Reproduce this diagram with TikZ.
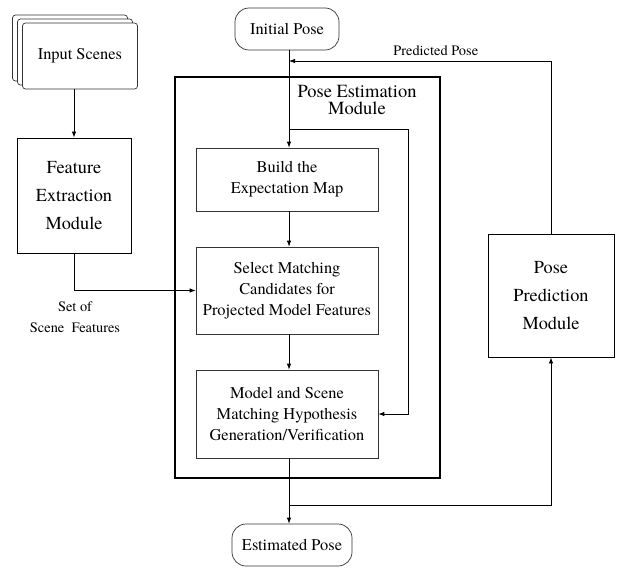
\documentclass[tikz,border=0pt]{standalone}
\usepackage{fontspec}
\IfFontExistsTF{texgyretermes-regular.otf}
  {\setmainfont{texgyretermes-regular.otf}}
  {\setmainfont{Liberation Serif}}
\usetikzlibrary{arrows.meta}

\begin{document}
\begin{tikzpicture}[x=1pt, y=-1pt, >={Latex[length=6pt,width=4.5pt]},
    every node/.style={inner sep=0pt, align=center, font=\fontsize{16.4}{21}\selectfont},
    stepbox/.style={draw=black!80, line width=0.7pt, fill=white},
    modbox/.style={draw=black, line width=0.9pt, fill=white, font=\fontsize{18.3}{28}\selectfont},
    termbox/.style={draw=black!80, line width=0.7pt, rounded corners=14pt},
    small/.style={font=\fontsize{14.4}{21}\selectfont},
    link/.style={line width=0.8pt}]
    \useasboundingbox (0,0) rectangle (617,570);
    \node (scenesC) at (70,48) [stepbox, rounded corners=3pt, minimum width=115pt, minimum height=66pt] {};
    \node (scenesB) at (75,52) [stepbox, rounded corners=3pt, minimum width=115pt, minimum height=66pt] {};
    \node (scenes) at (80,56) [stepbox, rounded corners=3pt, minimum width=115pt, minimum height=66pt] {Input Scenes};
    \node (feature) at (74,195.5) [modbox, minimum width=114pt, minimum height=115pt] {Feature\\Extraction\\Module};
    \node (pem) at (307.5,277.5) [draw, line width=1.2pt, minimum width=265pt, minimum height=401pt] {};
    \node (pemtitle) at (357,100) [font=\fontsize{18.5}{17}\selectfont] {Pose Estimation\\Module};
    \node (initial) at (287,29) [termbox, minimum width=104pt, minimum height=42pt] {Initial Pose};
    \node (build) at (287,179.5) [stepbox, minimum width=182pt, minimum height=63pt] {Build the\\Expectation Map};
    \node (select) at (287,290.5) [stepbox, minimum width=182pt, minimum height=87pt] {Select Matching\\Candidates for\\Projected Model Features};
    \node (model) at (287,414) [stepbox, minimum width=182pt, minimum height=88pt] {Model and Scene\\Matching Hypothesis\\Generation/Verification};
    \node (estimated) at (292,545) [termbox, minimum width=120pt, minimum height=42pt] {Estimated Pose};
    \node (predict) at (551,295.5) [modbox, minimum width=126pt, minimum height=123pt] {Pose\\Prediction\\Module};
    \node (featurelabel) at (75,317) [small] {Set of\\Scene~ Features};
    \coordinate (merge) at (289,61);
    \coordinate (loopin) at (289,129);
    \coordinate (loopturn) at (408,129);
    \coordinate (split) at (289,505);
    \draw[link,->] (scenes.south -| feature.north) -- (feature.north);
    \draw[link,->] (feature.south) |- (select.west);
    \draw[link,->] (initial.south -| merge) -- (build.north -| merge);
    \draw[link,->] (build.south -| merge) -- (select.north -| merge);
    \draw[link,->] (select.south -| merge) -- (model.north -| merge);
    \draw[link,->] (model.south -| merge) -- (estimated.north -| merge);
    \draw[link,->] (loopin) -- (loopturn) |- (model.east);
    \draw[link,->] (split) -| (predict.south);
    \draw[link,->] (predict.north) |- node[pos=0.72, above=5pt, small] {Predicted Pose} (merge);
\end{tikzpicture}
\end{document}
